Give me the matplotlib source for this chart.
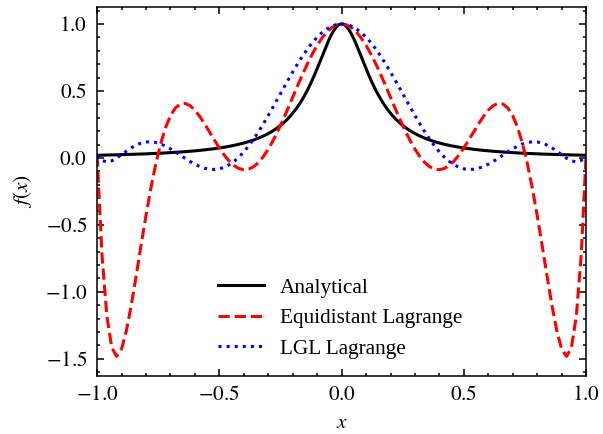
import numpy as np
import matplotlib
matplotlib.use("Agg")
import matplotlib.pyplot as plt
from numpy.polynomial import polynomial as P

# Runge-type function f(x) = 1 / (1 + a x^2)
runge_a = 50.0

# equidistant nodes (9 points) and f at the nodes
eq_nodes = [-1.0, -0.75, -0.5, -0.25, 0.0, 0.25, 0.5, 0.75, 1.0]
eq_values = [0.019608, 0.034335, 0.074074, 0.242424, 1.0,
             0.242424, 0.074074, 0.034335, 0.019608]

# Legendre-Gauss-Lobatto nodes (9 points) and f at the nodes
lgl_nodes = [-1.0, -0.899758, -0.677186, -0.363117, 0.0,
             0.363117, 0.677186, 0.899758, 1.0]
lgl_values = [0.019608, 0.024109, 0.041790, 0.131705, 1.0,
              0.131705, 0.041790, 0.024109, 0.019608]

labels = ["Analytical", "Equidistant Lagrange", "LGL Lagrange"]

plt.rcParams["font.family"] = ["Liberation Serif", "DejaVu Serif"]
plt.rcParams["mathtext.fontset"] = "stix"
plt.rcParams["font.size"] = 15.3
plt.rcParams["axes.linewidth"] = 1.1
for ax_name in ("xtick", "ytick"):
    plt.rcParams[ax_name + ".direction"] = "in"
    plt.rcParams[ax_name + ".major.size"] = 5
    plt.rcParams[ax_name + ".minor.size"] = 2.5
    plt.rcParams[ax_name + ".major.width"] = 1.1
    plt.rcParams[ax_name + ".minor.width"] = 1.1
    plt.rcParams[ax_name + ".minor.visible"] = True
plt.rcParams["xtick.top"] = True
plt.rcParams["ytick.right"] = True


def lagrange(nodes, values, x):
    # polynomial of degree n-1 through n points is the Lagrange interpolant
    coef = P.polyfit(nodes, values, len(nodes) - 1)
    return P.polyval(x, coef)


def tick_fmt(v, pos):
    return f"${v:.1f}$"


x = np.linspace(-1, 1, 101)
x_fine = np.linspace(-1, 1, 1001)

fig = plt.figure(figsize=(6.03, 4.34), dpi=100)
ax = fig.add_axes([0.161, 0.134, 0.811, 0.850])

ax.plot(x_fine, 1.0 / (1.0 + runge_a * x_fine**2), "k-", lw=2.2, label=labels[0])
ax.plot(x, lagrange(eq_nodes, eq_values, x), "r--", lw=2.2, label=labels[1])
ax.plot(x, lagrange(lgl_nodes, lgl_values, x), "b:", lw=2.2, label=labels[2])

ax.set_xlim(-1, 1)
ax.set_ylim(-1.627, 1.127)
ax.xaxis.set_major_locator(plt.MultipleLocator(0.5))
ax.xaxis.set_minor_locator(plt.MultipleLocator(0.1))
ax.yaxis.set_major_locator(plt.MultipleLocator(0.5))
ax.yaxis.set_minor_locator(plt.MultipleLocator(0.1))
ax.xaxis.set_major_formatter(plt.FuncFormatter(tick_fmt))
ax.yaxis.set_major_formatter(plt.FuncFormatter(tick_fmt))
ax.tick_params(axis="y", which="major", pad=7)
ax.tick_params(axis="x", which="major", pad=7.5)

ax.set_xlabel("$x$", labelpad=6)
ax.set_ylabel("$f(x)$", labelpad=8)

ax.legend(frameon=False, loc="center", bbox_to_anchor=(0.497, 0.156),
          handlelength=2.16, handletextpad=0.75, labelspacing=0.5)

fig.savefig("out.png", dpi=100)
